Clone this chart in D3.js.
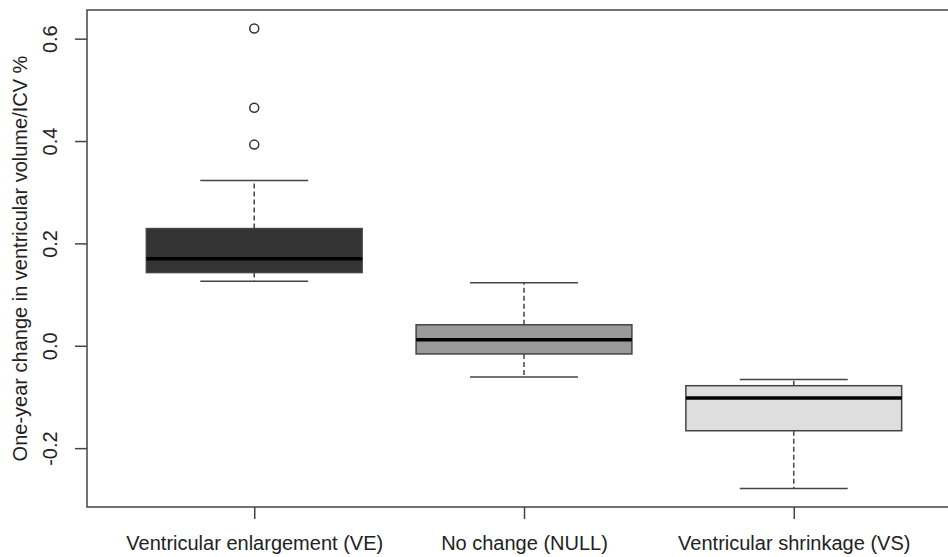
<!DOCTYPE html>
<html>
<head>
<meta charset="utf-8">
<script src="https://cdn.jsdelivr.net/npm/d3@7"></script>
<style>
  body { margin: 0; background: #fff; }
  svg { display: block; font-family: 'Liberation Sans', Arial, Helvetica, sans-serif; }
</style>
</head>
<body>
<script>
// * box stats (R-style boxplot)
var groups    = ['Ventricular enlargement (VE)', 'No change (NULL)', 'Ventricular shrinkage (VS)'];
var whiskLow  = [0.126, -0.061, -0.279];
var boxLow    = [0.143, -0.016, -0.166];
var medians   = [0.170,  0.012, -0.102];
var boxHigh   = [0.229,  0.041, -0.078];
var whiskHigh = [0.323,  0.123, -0.066];
var outliers  = [[0.620, 0.465, 0.393], [], []];
var fills     = ['#343434', '#9a9a9a', '#dedede'];
var yTicks    = [-0.2, 0.0, 0.2, 0.4, 0.6];
var yLabel    = 'One-year change in ventricular volume/ICV %';

var W = 948, H = 557;
var svg = d3.select('body').append('svg').attr('width', W).attr('height', H);

// plot region, right edge falls off the page like the source
var x = d3.scaleLinear().domain([0.38, 3.62]).range([87, 961]);
var y = d3.scaleLinear().domain([-0.315, 0.656]).range([507, 10]);
var boxW = x(0.8) - x(0);
var ink = '#444';

var rows = groups.map(function (g, i) {
  return { name: g, pos: i + 1, lo: whiskLow[i], q1: boxLow[i], med: medians[i],
           q3: boxHigh[i], hi: whiskHigh[i], out: outliers[i], fill: fills[i] };
});

var box = svg.append('g').selectAll('g').data(rows).enter().append('g');

// dashed whiskers
box.append('line').attr('x1', function (d) { return x(d.pos); }).attr('x2', function (d) { return x(d.pos); })
   .attr('y1', function (d) { return y(d.q3); }).attr('y2', function (d) { return y(d.hi); })
   .attr('stroke', ink).attr('stroke-width', 1.5).attr('stroke-dasharray', '5,3');
box.append('line').attr('x1', function (d) { return x(d.pos); }).attr('x2', function (d) { return x(d.pos); })
   .attr('y1', function (d) { return y(d.q1); }).attr('y2', function (d) { return y(d.lo); })
   .attr('stroke', ink).attr('stroke-width', 1.5).attr('stroke-dasharray', '5,3');

// staples, half box width
['lo', 'hi'].forEach(function (k) {
  box.append('line')
     .attr('x1', function (d) { return x(d.pos) - boxW / 4; }).attr('x2', function (d) { return x(d.pos) + boxW / 4; })
     .attr('y1', function (d) { return y(d[k]); }).attr('y2', function (d) { return y(d[k]); })
     .attr('stroke', ink).attr('stroke-width', 1.5);
});

box.append('rect')
   .attr('x', function (d) { return x(d.pos) - boxW / 2; })
   .attr('y', function (d) { return y(d.q3); })
   .attr('width', boxW)
   .attr('height', function (d) { return y(d.q1) - y(d.q3); })
   .attr('fill', function (d) { return d.fill; })
   .attr('stroke', ink).attr('stroke-width', 1.5);

box.append('line')
   .attr('x1', function (d) { return x(d.pos) - boxW / 2; }).attr('x2', function (d) { return x(d.pos) + boxW / 2; })
   .attr('y1', function (d) { return y(d.med); }).attr('y2', function (d) { return y(d.med); })
   .attr('stroke', '#000').attr('stroke-width', 3.5);

box.selectAll('circle').data(function (d) { return d.out.map(function (v) { return { pos: d.pos, v: v }; }); })
   .enter().append('circle')
   .attr('cx', function (d) { return x(d.pos); }).attr('cy', function (d) { return y(d.v); })
   .attr('r', 4.5).attr('fill', 'none').attr('stroke', '#333').attr('stroke-width', 1.5);

// frame (open on the right because it is off-page)
svg.append('rect').attr('x', x.range()[0]).attr('y', y.range()[1])
   .attr('width', x.range()[1] - x.range()[0]).attr('height', y.range()[0] - y.range()[1])
   .attr('fill', 'none').attr('stroke', ink).attr('stroke-width', 1.5);

// y axis: R style, rotated labels (tick groups are already translated to y)
// R prints a plain hyphen, not the unicode minus d3.format gives
var fmt = d3.format('.1f');
var yAxis = svg.append('g').attr('transform', 'translate(' + x.range()[0] + ',0)')
  .call(d3.axisLeft(y).tickValues(yTicks).tickSize(12)
    .tickFormat(function (d) { return fmt(d).replace('\u2212', '-'); }));
yAxis.select('.domain').remove();
yAxis.selectAll('line').attr('stroke', ink).attr('stroke-width', 1.5);
yAxis.selectAll('text')
  .attr('x', null).attr('dy', null)
  .attr('transform', 'translate(-37,0) rotate(-90)')
  .attr('text-anchor', 'middle').attr('dominant-baseline', 'central')
  .attr('font-size', 20).attr('font-family', null).attr('fill', '#222');

// x axis
var xAxis = svg.append('g').attr('transform', 'translate(0,' + y.range()[0] + ')')
  .call(d3.axisBottom(x).tickValues([1, 2, 3]).tickSize(12).tickFormat(function (d) { return groups[d - 1]; }));
xAxis.select('.domain').remove();
xAxis.selectAll('line').attr('stroke', ink).attr('stroke-width', 1.5);
xAxis.selectAll('text').attr('y', 43).attr('dy', null)
  .attr('font-size', 20).attr('font-family', null).attr('fill', '#222');

svg.append('text')
  .attr('transform', 'translate(20,' + (y.range()[0] + y.range()[1]) / 2 + ') rotate(-90)')
  .attr('text-anchor', 'middle').attr('dominant-baseline', 'central')
  .attr('font-size', 20).attr('fill', '#222')
  .text(yLabel);
</script>
</body>
</html>
